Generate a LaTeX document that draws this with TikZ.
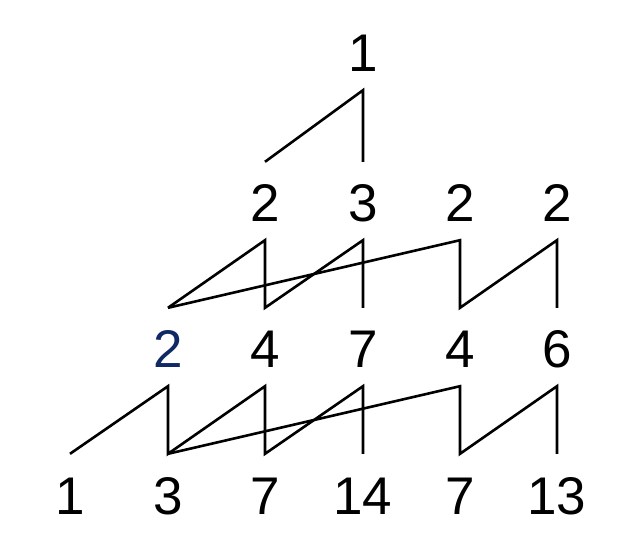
\documentclass[tikz,border=0pt]{standalone}
\usepackage{fontspec}
\setmainfont{Liberation Sans}
\definecolor{navy}{RGB}{16,40,100}
\begin{document}
\begin{tikzpicture}[x=1pt,y=1pt,
  num/.style={inner sep=0pt, text height=38pt, text depth=0pt, anchor=base,
    font=\fontsize{53}{60}\selectfont},
  edge/.style={line width=2.6pt, line join=miter}]
\useasboundingbox (0,0) rectangle (632,552);
% row 0
\node[num] (a1) at (363,480) {1};
% row 1
\node[num] (b1) at (265,330) {2};
\node[num] (b2) at (363,330) {3};
\node[num] (b3) at (460,330) {2};
\node[num] (b4) at (557,330) {2};
% row 2
\node[num, text=navy] (c1) at (168,184) {2};
\node[num] (c2) at (265,184) {4};
\node[num] (c3) at (363,184) {7};
\node[num] (c4) at (460,184) {4};
\node[num] (c5) at (557,184) {6};
% row 3
\node[num] (d1) at (70,38) {1};
\node[num] (d2) at (168,38) {3};
\node[num] (d3) at (265,38) {7};
\node[num] (d4) at (363,38) {14};
\node[num] (d5) at (460,38) {7};
\node[num] (d6) at (557,38) {13};
% end points of connectors
\foreach \n in {a1,b1,b2,b3,b4,c1,c2,c3,c4,c5,d1,d2,d3,d4,d5,d6}{
  \coordinate (\n-t) at ([yshift=22pt]\n.north);
  \coordinate (\n-b) at ([yshift=-18pt]\n.south);
}
% connectors
\draw[edge] (b1-t) -- (a1-b) -- (b2-t);
\draw[edge] (c1-t) -- (b1-b) -- (c2-t) -- (b2-b) -- (c3-t);
\draw[edge] (c1-t) -- (b3-b) -- (c4-t) -- (b4-b) -- (c5-t);
\draw[edge] (d1-t) -- (c1-b) -- (d2-t) -- (c2-b) -- (d3-t) -- (c3-b) -- (d4-t);
\draw[edge] (d2-t) -- (c4-b) -- (d5-t) -- (c5-b) -- (d6-t);
\end{tikzpicture}
\end{document}
